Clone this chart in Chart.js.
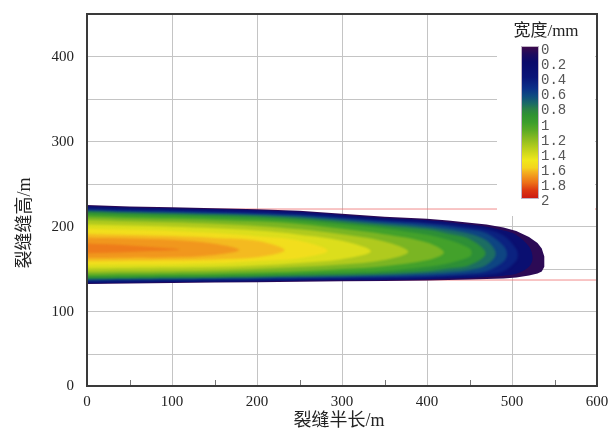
<!DOCTYPE html>
<html lang="zh">
<head>
<meta charset="UTF-8">
<title>裂缝宽度分布</title>
<script src="https://cdn.jsdelivr.net/npm/chart.js"></script>
<style>
  html, body { margin: 0; padding: 0; background: #fff; }
  #wrap { width: 608px; height: 430px; position: relative; }
</style>
</head>
<body>
<div id="wrap"><canvas id="fracChart"></canvas></div>
<script>
// stations along the half-length (m) where contour heights were read
const stationX = [0, 50, 100, 150, 200, 250, 300, 350, 400, 425, 450, 470, 490, 505, 520, 530];

// outer fracture outline (height, m)
const outlineX = [0, 50, 100, 150, 200, 250, 300, 350, 400, 425, 450, 470, 490, 505, 520, 530, 535, 538];
const outlineTop = [225.6, 223.9, 223.0, 221.9, 220.7, 218.9, 215.3, 211.8, 209.4, 207.4, 204.8, 202.7, 199.2, 195.1, 188.0, 181.0, 174.5, 165.0];
const outlineBottom = [132.8, 133.4, 134.0, 134.5, 134.9, 135.6, 136.0, 136.3, 136.9, 137.5, 138.1, 138.7, 139.3, 140.4, 142.8, 145.2, 147.5, 153.0];

// width contours (mm): upper / lower edge at each station, then the tip
const widthLevels = [0.2, 0.4, 0.55, 0.7, 0.82, 0.95, 1.1, 1.25, 1.38, 1.5, 1.6, 1.68, 1.74];
const levelTop = [
  [224.5, 222.8, 221.9, 220.8, 219.5, 217.6, 213.9, 210.3, 207.7, 205.5, 202.6, 200.0, 195.6, 190.5, 176.9],
  [221.9, 220.3, 219.4, 218.3, 217.0, 215.0, 211.3, 207.6, 204.9, 202.7, 199.8, 196.9, 189.8, 174.0],
  [220.1, 218.5, 217.6, 216.5, 215.2, 213.3, 209.7, 206.1, 203.1, 200.5, 196.8, 192.3, 177.9],
  [218.6, 217.1, 216.2, 215.1, 213.8, 211.7, 208.1, 203.9, 199.9, 196.6, 191.9, 183.9],
  [217.3, 215.9, 214.9, 213.8, 212.4, 209.9, 205.7, 201.2, 196.7, 191.8, 185.6],
  [215.1, 213.6, 212.6, 211.3, 209.7, 207.1, 202.8, 197.7, 190.7, 184.7, 174.7],
  [211.9, 210.5, 209.4, 208.1, 206.4, 203.4, 197.7, 191.3, 181.7],
  [208.0, 206.6, 205.4, 203.6, 201.1, 197.1, 191.3, 182.8],
  [202.6, 201.4, 200.1, 198.3, 195.6, 190.8, 183.5],
  [197.6, 196.5, 195.2, 192.8, 188.9, 183.7],
  [191.6, 190.5, 189.1, 186.9, 183.5],
  [187.2, 186.3, 184.9, 180.1],
  [180.3, 178.1, 174.4]
];
const levelBottom = [
  [133.7, 134.3, 134.9, 135.4, 135.8, 136.6, 137.1, 137.6, 138.4, 139.2, 140.0, 141.1, 142.6, 144.8, 153.1],
  [135.7, 136.3, 136.8, 137.3, 137.8, 138.7, 139.3, 139.9, 140.8, 141.6, 142.5, 143.8, 147.9, 160.2],
  [137.2, 137.8, 138.3, 138.7, 139.2, 140.0, 140.6, 141.2, 142.3, 143.4, 145.1, 147.8, 158.9],
  [138.3, 138.9, 139.4, 139.8, 140.4, 141.2, 141.9, 143.0, 145.1, 146.7, 149.4, 155.2],
  [139.4, 139.9, 140.4, 140.8, 141.5, 142.7, 143.8, 145.3, 147.8, 150.9, 154.9],
  [141.2, 141.7, 142.2, 142.7, 143.6, 144.9, 146.2, 148.3, 153.0, 157.0, 164.4],
  [143.7, 144.3, 144.7, 145.2, 146.2, 147.8, 150.4, 153.8, 160.7],
  [146.8, 147.4, 147.9, 148.7, 150.4, 152.7, 155.6, 161.0],
  [151.1, 151.6, 152.1, 152.8, 154.6, 157.6, 161.9],
  [155.1, 155.6, 156.0, 157.1, 159.9, 163.2],
  [159.8, 160.5, 160.8, 161.7, 164.2],
  [163.3, 163.8, 164.1, 167.0],
  [168.8, 170.5, 172.4]
];
const tipX = [524.2, 506.8, 494.2, 480.9, 469, 452.7, 420, 378, 334, 283.3, 232.4, 179.2, 108.3];
const tipY = [163.5, 166.6, 167.7, 168.3, 168.6, 169.1, 169.9, 170.7, 171.2, 171.8, 172.4, 172.7, 173.2];

// layer limits (red lines)
const zoneLimits = [220.9, 137.5];

// axes
const yTickValues = [13, 50, 100, 150, 200, 250, 300, 350, 400, 450];
const yTickText = ['0', '', '100', '', '200', '', '300', '', '400', ''];
const xMinorTicks = [50, 150, 250, 350, 450, 550];

// colour bar
const barLabels = ['0', '0.2', '0.4', '0.6', '0.8', '1', '1.2', '1.4', '1.6', '1.8', '2'];
const cmapValues = [0, 0.1, 0.2, 0.4, 0.55, 0.65, 0.75, 0.82, 0.9, 1.0, 1.1, 1.2, 1.3, 1.4, 1.5, 1.6, 1.65, 1.7, 1.8, 1.9, 2.0];
const cmapColors = ['#3c0a4c', '#1c0a5e', '#0a0a6a', '#0a1478', '#0c3088', '#0f4c80', '#1a6a66', '#2a8048',
  '#2e9232', '#3c9e2c', '#5aaa26', '#84b822', '#aac81e', '#cfd81c', '#f0e81c', '#f4d41e', '#f4b420',
  '#f29c1e', '#ec6e18', '#dc3612', '#cc1a14'];

function hexToRgb(h) {
  const n = parseInt(h.slice(1), 16);
  return [(n >> 16) & 255, (n >> 8) & 255, n & 255];
}
function colorAt(v) {
  for (let i = 1; i < cmapValues.length; i++) {
    if (v <= cmapValues[i]) {
      const t = (v - cmapValues[i - 1]) / (cmapValues[i] - cmapValues[i - 1]);
      const a = hexToRgb(cmapColors[i - 1]), b = hexToRgb(cmapColors[i]);
      const c = a.map((ch, k) => Math.round(ch + (b[k] - ch) * t));
      return `rgb(${c[0]},${c[1]},${c[2]})`;
    }
  }
  return cmapColors[cmapColors.length - 1];
}

function shape(points, color, order, tension) {
  return {
    data: points, fill: 'shape', backgroundColor: color,
    borderColor: 'rgba(0,0,0,0)', borderWidth: 0, pointRadius: 0,
    tension: tension, order: order
  };
}

const datasets = [];
zoneLimits.forEach(y => datasets.push({
  data: [{x: 0, y: y}, {x: 600, y: y}], borderColor: 'rgba(238,120,120,0.85)',
  borderWidth: 1, pointRadius: 0, fill: false, order: 100
}));

const outlinePts = outlineX.map((x, i) => ({x: x, y: outlineTop[i]}))
  .concat(outlineX.map((x, i) => ({x: x, y: outlineBottom[i]})).reverse());
datasets.push(shape(outlinePts, colorAt(0.05), 60, 0));

widthLevels.forEach((v, i) => {
  const n = levelTop[i].length;
  const pts = [];
  for (let k = 0; k < n; k++) pts.push({x: stationX[k], y: levelTop[i][k]});
  pts.push({x: tipX[i], y: tipY[i]});
  for (let k = n - 1; k >= 0; k--) pts.push({x: stationX[k], y: levelBottom[i][k]});
  const next = i + 1 < widthLevels.length ? widthLevels[i + 1] : v + 0.06;
  datasets.push(shape(pts, colorAt((v + next) / 2), 59 - i, 0.35));
});

// index of the last contour drawn sharp; the ones inside it are softened
const sharpUntil = 3;

const serif = '"Liberation Serif", "Noto Sans CJK SC", serif';

const decorations = {
  id: 'decorations',
  afterDatasetDraw(chart, args) {
    if (args.index === sharpUntil) chart.ctx.filter = 'blur(1.3px)';
  },
  afterDatasetsDraw(chart) {
    const {ctx, chartArea: a, scales} = chart;
    ctx.filter = 'none';
    ctx.save();
    // legend panel
    ctx.fillStyle = '#ffffff';
    ctx.fillRect(497, a.top + 1, 98, 201);
    const barTop = 47, barBottom = 198;
    const grad = ctx.createLinearGradient(0, barTop, 0, barBottom);
    cmapValues.forEach((v, i) => grad.addColorStop(v / 2, cmapColors[i]));
    ctx.fillStyle = grad;
    ctx.fillRect(522, barTop, 16, barBottom - barTop);
    ctx.strokeStyle = 'rgba(150,130,160,0.6)';
    ctx.lineWidth = 1;
    ctx.strokeRect(521.5, barTop - 0.5, 17, barBottom - barTop + 1);
    ctx.fillStyle = '#555';
    ctx.font = '14px "Liberation Mono", monospace';
    ctx.textAlign = 'left';
    ctx.textBaseline = 'middle';
    barLabels.forEach((t, i) => ctx.fillText(t, 541, 50 + i * 15.17));
    ctx.fillStyle = '#222';
    ctx.font = '17px ' + serif;
    ctx.textAlign = 'center';
    ctx.fillText('宽度/mm', 546, 32);

    // minor ticks along the bottom axis
    ctx.strokeStyle = '#777';
    ctx.lineWidth = 1;
    xMinorTicks.forEach(v => {
      const px = Math.round(scales.x.getPixelForValue(v)) + 0.5;
      ctx.beginPath();
      ctx.moveTo(px, a.bottom);
      ctx.lineTo(px, a.bottom - 6);
      ctx.stroke();
    });

    // frame
    ctx.strokeStyle = '#3a3a3a';
    ctx.lineWidth = 2;
    ctx.strokeRect(a.left, a.top, a.right - a.left, a.bottom - a.top);

    // axis titles
    ctx.fillStyle = '#222';
    ctx.font = '18px ' + serif;
    ctx.textAlign = 'center';
    ctx.fillText('裂缝半长/m', 339, 421);
    ctx.translate(25, 223);
    ctx.rotate(-Math.PI / 2);
    ctx.fillText('裂缝缝高/m', 0, 0);
    ctx.restore();
  }
};

new Chart(document.getElementById('fracChart'), {
  type: 'line',
  data: {datasets: datasets},
  options: {
    responsive: true,
    maintainAspectRatio: false,
    animation: false,
    devicePixelRatio: 1,
    events: [],
    layout: {padding: {left: 0, right: 11, top: 14, bottom: 0}},
    plugins: {legend: {display: false}, tooltip: {enabled: false}},
    scales: {
      x: {
        type: 'linear', min: 0, max: 600,
        ticks: {stepSize: 100, padding: 7, color: '#222', font: {family: serif, size: 15}, maxRotation: 0},
        grid: {color: '#c4c4c4', lineWidth: 1, drawTicks: false},
        border: {display: false},
        afterFit: s => { s.height = 44; s.paddingLeft = 0; s.paddingRight = 0; }
      },
      y: {
        type: 'linear', min: 13, max: 450,
        afterBuildTicks: s => { s.ticks = yTickValues.map(v => ({value: v})); },
        ticks: {
          autoSkip: false, padding: 13, color: '#222', font: {family: serif, size: 15},
          callback: (value, index) => yTickText[index]
        },
        grid: {color: '#c4c4c4', lineWidth: 1, drawTicks: false},
        border: {display: false},
        afterFit: s => { s.width = 87; s.paddingTop = 0; s.paddingBottom = 0; }
      }
    }
  },
  plugins: [decorations]
});
</script>
</body>
</html>
